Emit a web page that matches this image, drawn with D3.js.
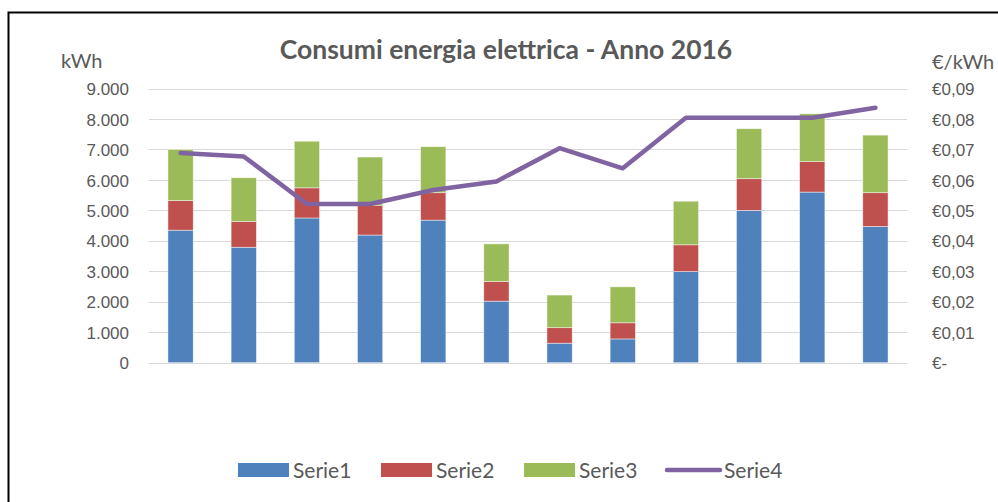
<!DOCTYPE html>
<meta charset="utf-8">
<style>
  body { margin: 0; background: #fff; }
  svg { display: block; font-family: Lato, "Open Sans", sans-serif; }
  .tick text { fill: #595959; font-size: 17px; }
  .grid line { stroke: #d9d9d9; stroke-width: 1; }
</style>
<body>
<script src="https://cdn.jsdelivr.net/npm/d3@7"></script>
<script>
// data
var months = ["1", "2", "3", "4", "5", "6", "7", "8", "9", "10", "11", "12"];
var serie1 = [4350, 3790, 4750, 4190, 4680, 2020, 640, 780, 2990, 5000, 5600, 4470];
var serie2 = [970, 850, 990, 980, 900, 650, 510, 530, 880, 1040, 1000, 1110];
var serie3 = [1680, 1430, 1530, 1580, 1510, 1230, 1070, 1180, 1430, 1640, 1570, 1890];
var serie4 = [0.0688, 0.0677, 0.0521, 0.0521, 0.0567, 0.0595, 0.0704, 0.0638, 0.0804, 0.0804, 0.0804, 0.0837];
var leftTicks = [0, 1000, 2000, 3000, 4000, 5000, 6000, 7000, 8000, 9000];
var rightTicks = [0, 0.01, 0.02, 0.03, 0.04, 0.05, 0.06, 0.07, 0.08, 0.09];
var seriesNames = ["Serie1", "Serie2", "Serie3", "Serie4"];
var colors = ["#4f81bd", "#c0504d", "#9bbb59", "#8064a2"];

var W = 998, H = 502;
var plot = {left: 149, right: 907, top: 88.5, bottom: 362.7};

var svg = d3.select("body").append("svg")
    .attr("width", W)
    .attr("height", H);

// outer frame
svg.append("rect")
    .attr("x", 8.5).attr("y", 12.5)
    .attr("width", 1000).attr("height", 600)
    .attr("fill", "none")
    .attr("stroke", "#000")
    .attr("stroke-width", 2);

var x = d3.scaleBand()
    .domain(months)
    .range([plot.left, plot.right])
    .paddingInner(0.6)
    .paddingOuter(0.3);

var y = d3.scaleLinear().domain([0, 9000]).range([plot.bottom, plot.top]);
var y2 = d3.scaleLinear().domain([0, 0.09]).range([plot.bottom, plot.top]);

var it = d3.formatLocale({decimal: ",", thousands: ".", grouping: [3], currency: ["€", ""]});
var fmtLeft = it.format(",");
var fmtRight = function(d) { return d === 0 ? "€-" : "€" + it.format(".2f")(d); };

// gridlines
svg.append("g").attr("class", "grid")
  .selectAll("line").data(leftTicks).enter().append("line")
    .attr("x1", plot.left).attr("x2", plot.right)
    .attr("y1", d => Math.round(y(d)) + 0.5)
    .attr("y2", d => Math.round(y(d)) + 0.5)
    .attr("stroke-width", d => d === 0 ? 2 : 1);

// left axis
var gl = svg.append("g")
    .attr("transform", "translate(" + (plot.left - 12) + ",0)")
    .call(d3.axisLeft(y).tickValues(leftTicks).tickFormat(fmtLeft).tickSize(0).tickPadding(8));
gl.select(".domain").remove();
gl.selectAll(".tick text").attr("dy", "0.36em");

// right axis
var gr = svg.append("g")
    .attr("transform", "translate(" + (plot.right + 17) + ",0)")
    .call(d3.axisRight(y2).tickValues(rightTicks).tickFormat(fmtRight).tickSize(0).tickPadding(8));
gr.select(".domain").remove();
gr.selectAll(".tick text").attr("dy", "0.36em");

// stacked bars
var table = months.map(function(m, i) {
  return {month: m, s1: serie1[i], s2: serie2[i], s3: serie3[i]};
});
var stack = d3.stack().keys(["s1", "s2", "s3"])(table);

svg.append("g").selectAll("g").data(stack).enter().append("g")
    .attr("fill", (d, i) => colors[i])
  .selectAll("rect").data(d => d).enter().append("rect")
    .attr("x", d => x(d.data.month))
    .attr("width", x.bandwidth())
    .attr("y", d => y(d[1]))
    .attr("height", d => y(d[0]) - y(d[1]))
    .attr("stroke", "#fff")
    .attr("stroke-opacity", 0.6)
    .attr("stroke-width", 0.75);

// line on secondary axis
var line = d3.line()
    .x((d, i) => x(months[i]) + x.bandwidth() / 2)
    .y(d => y2(d));

svg.append("path").datum(serie4)
    .attr("d", line)
    .attr("fill", "none")
    .attr("stroke", colors[3])
    .attr("stroke-width", 4.5)
    .attr("stroke-linecap", "round")
    .attr("stroke-linejoin", "round");

// title and axis titles
svg.append("text")
    .attr("x", 506).attr("y", 59)
    .attr("text-anchor", "middle")
    .style("font-size", "26.5px")
    .style("font-weight", "bold")
    .style("fill", "#595959")
    .text("Consumi energia elettrica - Anno 2016");

svg.append("text")
    .attr("x", 61).attr("y", 68)
    .style("font-size", "20px").style("fill", "#595959")
    .text("kWh");

svg.append("text")
    .attr("x", 932).attr("y", 69)
    .style("font-size", "20px").style("fill", "#595959")
    .text("€/kWh");

// legend
var legendX = [238, 381, 524, 666];
var lg = svg.append("g").selectAll("g").data(seriesNames).enter().append("g")
    .attr("transform", (d, i) => "translate(" + legendX[i] + ",470)");

lg.filter((d, i) => i < 3).append("rect")
    .attr("x", 0).attr("y", -7)
    .attr("width", 51).attr("height", 14)
    .attr("fill", (d, i) => colors[i]);

lg.filter((d, i) => i === 3).append("line")
    .attr("x1", 1).attr("x2", 54)
    .attr("y1", 0).attr("y2", 0)
    .attr("stroke", colors[3])
    .attr("stroke-width", 4.5)
    .attr("stroke-linecap", "round");

lg.append("text")
    .attr("x", (d, i) => i < 3 ? 55 : 58)
    .attr("y", 0)
    .attr("dy", "0.36em")
    .style("font-size", "21px").style("fill", "#595959")
    .text(d => d);
</script>
</body>
